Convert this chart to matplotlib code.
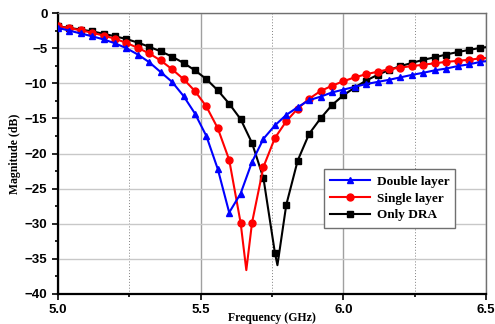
import numpy as np
import matplotlib
matplotlib.use('Agg')
import matplotlib.pyplot as plt
from matplotlib.ticker import MultipleLocator, FormatStrFormatter

# marker frequencies (GHz)
freq = [5.00, 5.04, 5.08, 5.12, 5.16, 5.20, 5.24, 5.28, 5.32, 5.36,
        5.40, 5.44, 5.48, 5.52, 5.56, 5.60, 5.64, 5.68, 5.72, 5.76,
        5.80, 5.84, 5.88, 5.92, 5.96, 6.00, 6.04, 6.08, 6.12, 6.16,
        6.20, 6.24, 6.28, 6.32, 6.36, 6.40, 6.44, 6.48]

double_layer = [-2.1, -2.5, -2.9, -3.3, -3.75, -4.3, -5.0, -5.9, -7.0, -8.4,
                -9.8, -11.8, -14.3, -17.5, -22.2, -28.4, -25.7, -21.2, -17.9, -16.0,
                -14.5, -13.4, -12.4, -11.9, -11.3, -10.9, -10.5, -10.1, -9.8, -9.5,
                -9.15, -8.8, -8.5, -8.15, -7.9, -7.55, -7.3, -6.95]

single_layer = [-1.9, -2.15, -2.45, -2.8, -3.2, -3.65, -4.25, -4.95, -5.75, -6.75,
                -8.0, -9.4, -11.1, -13.3, -16.4, -20.9, -29.85, -29.85, -21.9, -17.8,
                -15.4, -13.6, -12.2, -11.1, -10.35, -9.7, -9.15, -8.7, -8.35, -8.0,
                -7.75, -7.55, -7.35, -7.15, -6.95, -6.8, -6.65, -6.45]

only_dra = [-1.9, -2.1, -2.35, -2.6, -2.95, -3.3, -3.7, -4.2, -4.8, -5.45,
            -6.2, -7.1, -8.15, -9.4, -11.0, -12.9, -15.1, -18.5, -23.5, -34.1,
            -27.3, -21.0, -17.2, -15.0, -13.1, -11.7, -10.6, -9.6, -8.8, -8.1,
            -7.55, -7.1, -6.65, -6.3, -5.9, -5.55, -5.25, -4.95]

# resonance minima between markers (freq, dB)
single_dip = (5.66, -36.6)
dra_dip = (5.769, -35.9)

# line end at 6.5 GHz (no marker)
end_f = 6.50
end_vals = {'double': -6.85, 'single': -6.4, 'dra': -4.85}


def with_extra(f, y, dip, end):
    f = list(f)
    y = list(y)
    marks = list(range(len(f)))
    if dip is not None:
        idx = int(np.searchsorted(f, dip[0]))
        f.insert(idx, dip[0])
        y.insert(idx, dip[1])
        marks = [m if m < idx else m + 1 for m in marks]
    f.append(end_f)
    y.append(end)
    return np.array(f), np.array(y), marks


fig = plt.figure(figsize=(4.95, 3.24), dpi=100)
ax = fig.add_axes([0.117, 0.0926, 0.865, 0.867])

fd, yd, md = with_extra(freq, double_layer, None, end_vals['double'])
fs, ys, ms = with_extra(freq, single_layer, single_dip, end_vals['single'])
fo, yo, mo = with_extra(freq, only_dra, dra_dip, end_vals['dra'])

ax.plot(fd, yd, color='#0000ff', marker='^', markersize=5, linewidth=1.5,
        markevery=md, label='Double layer', zorder=5)
ax.plot(fs, ys, color='#ff0000', marker='o', markersize=5, linewidth=1.5,
        markevery=ms, label='Single layer', zorder=4)
ax.plot(fo, yo, color='black', marker='s', markersize=4.5, linewidth=1.5,
        markevery=mo, label='Only DRA', zorder=3)

ax.set_xlim(5.0, 6.5)
ax.set_ylim(-40, 0)
ax.xaxis.set_major_locator(MultipleLocator(0.5))
ax.xaxis.set_minor_locator(MultipleLocator(0.25))
ax.yaxis.set_major_locator(MultipleLocator(5))
ax.yaxis.set_minor_locator(MultipleLocator(2.5))
ax.xaxis.set_major_formatter(FormatStrFormatter('%.1f'))

# grids
ax.grid(True, which='major', axis='y', color='#c8c8c8', linewidth=1.0, zorder=0)
ax.grid(True, which='major', axis='x', color='#a0a0a0', linewidth=1.0, zorder=0)
ax.grid(True, which='minor', axis='x', color='#808080', linewidth=0.7,
        linestyle=(0, (1, 2)), zorder=0)
ax.set_axisbelow(True)

ax.tick_params(which='both', direction='out', top=False, right=False,
               width=1.2, color='black')
ax.tick_params(which='major', length=4)
ax.tick_params(which='minor', length=2.5)
for lab in ax.get_xticklabels() + ax.get_yticklabels():
    lab.set_fontfamily('Liberation Sans')
    lab.set_fontweight('bold')
    lab.set_fontsize(9.5)

for s in ['left', 'bottom']:
    ax.spines[s].set_linewidth(1.6)
    ax.spines[s].set_color('black')
for s in ['top', 'right']:
    ax.spines[s].set_linewidth(1.0)
    ax.spines[s].set_color('#707070')

ax.set_xlabel('Frequency (GHz)', fontfamily='Liberation Serif',
              fontweight='bold', fontsize=8.5)
ax.xaxis.set_label_coords(0.5, -0.064)
ax.set_ylabel('Magnitude (dB)', fontfamily='Liberation Serif',
              fontweight='bold', fontsize=8.5, labelpad=3)

leg = ax.legend(loc='lower left', bbox_to_anchor=(0.621, 0.235, 0.307, 0.256),
                mode='expand', prop={'family': 'Liberation Serif', 'weight': 'bold', 'size': 9.5},
                fancybox=False, framealpha=1, edgecolor='#707070',
                handlelength=3.0, borderaxespad=0, labelspacing=0.35,
                borderpad=0.5, handletextpad=0.5)
leg.get_frame().set_linewidth(1.0)

fig.savefig('out.png', dpi=100)
